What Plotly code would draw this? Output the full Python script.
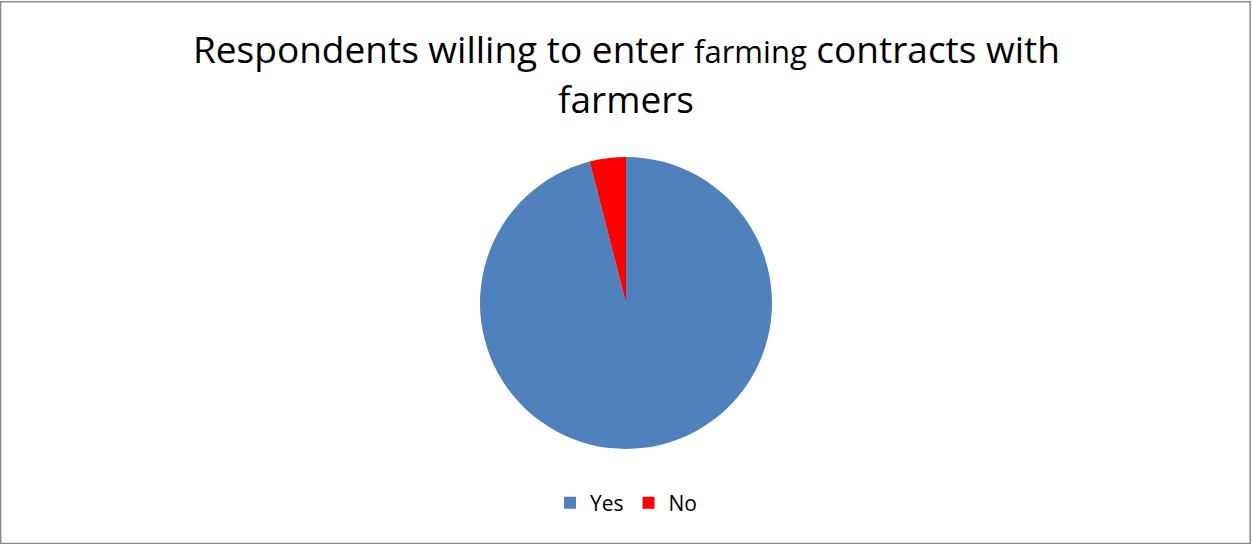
import plotly.graph_objects as go

labels = ["Yes", "No"]
values = [96, 4]
colors = ["#4F81BD", "#FF0000"]

title_line1 = "Respondents willing to enter <span style='font-size:31px'>farming</span> contracts with"
title_line2 = "farmers"

fig = go.Figure()
fig.add_trace(go.Pie(
    labels=labels, values=values, sort=False, direction="clockwise", rotation=0,
    marker=dict(colors=colors, line=dict(width=0)),
    textinfo="none", hoverinfo="label+value+percent",
    domain=dict(x=[0, 1], y=[1 - 449 / 544, 1 - 157 / 544]),
))

FONT = "'Open Sans', Carlito, Calibri, sans-serif"
fig.update_layout(
    width=1252, height=544,
    margin=dict(l=0, r=0, t=0, b=0),
    paper_bgcolor="white", plot_bgcolor="white",
    font=dict(family=FONT, color="black"),
    showlegend=True,
    legend=dict(orientation="h", x=0.5, xanchor="center", y=1 - 503 / 544, yanchor="middle",
                font=dict(size=21, family=FONT, color="black"), itemwidth=30,
                traceorder="normal"),
    annotations=[
        dict(text=title_line1, x=0.5, y=1 - 48 / 544, xref="paper", yref="paper",
             xanchor="center", yanchor="middle", showarrow=False,
             font=dict(size=37, family=FONT, color="black")),
        dict(text=title_line2, x=0.5, y=1 - 98 / 544, xref="paper", yref="paper",
             xanchor="center", yanchor="middle", showarrow=False,
             font=dict(size=37, family=FONT, color="black")),
    ],
    shapes=[dict(type="rect", xref="paper", yref="paper", x0=0.0005, y0=0.001, x1=0.9985, y1=0.997,
                 line=dict(color="#8A8A8A", width=1.5))],
)

fig.write_html("out.html", config={"displayModeBar": False},
               post_script="document.body.style.margin='0';document.body.style.overflow='hidden';")
